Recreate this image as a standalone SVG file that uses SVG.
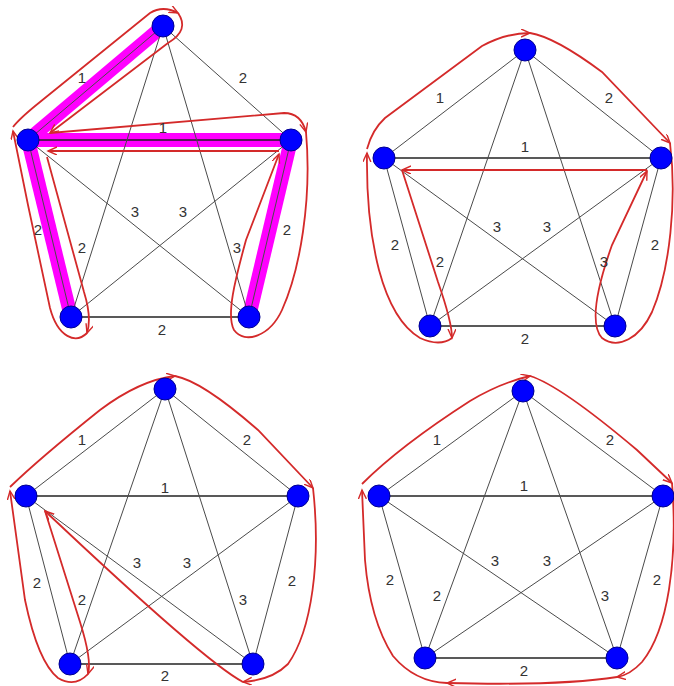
<svg xmlns="http://www.w3.org/2000/svg" width="674" height="686" viewBox="0 0 674 686">
<style>
.e{stroke:#4a4a4a;stroke-width:1;fill:none}
.eh{stroke:#222;stroke-width:1.4;fill:none}
.hl{stroke:#ff00ff;stroke-width:14;fill:none}
.r{stroke:#d42a2a;stroke-width:1.8;fill:none;marker-end:url(#ah)}
.n{fill:#0000ff;stroke:#000090;stroke-width:1}
.t{font-family:"Liberation Sans",Arial,sans-serif;font-size:15px;fill:#333;text-anchor:middle}
</style>
<defs>
<marker id="ah" markerUnits="userSpaceOnUse" markerWidth="12" markerHeight="10" refX="9" refY="4" orient="auto">
<path d="M0,0 L9,4 L0,8" fill="none" stroke="#d42a2a" stroke-width="1.4"/>
</marker>
</defs>
<g id="highlights">
<line class="hl" x1="163" y1="26" x2="28" y2="140"/>
<line class="hl" x1="28" y1="140" x2="291" y2="140"/>
<line class="hl" x1="28" y1="140" x2="71" y2="317"/>
<line class="hl" x1="291" y1="140" x2="249" y2="317"/>
</g>
<g id="connectors">
<line class="e" x1="163" y1="26" x2="28" y2="140"/>
<line class="e" x1="163" y1="26" x2="291" y2="140"/>
<line class="eh" x1="28" y1="140" x2="291" y2="140"/>
<line class="e" x1="28" y1="140" x2="71" y2="317"/>
<line class="e" x1="291" y1="140" x2="249" y2="317"/>
<line class="eh" x1="71" y1="317" x2="249" y2="317"/>
<line class="e" x1="163" y1="26" x2="71" y2="317"/>
<line class="e" x1="163" y1="26" x2="249" y2="317"/>
<line class="e" x1="28" y1="140" x2="249" y2="317"/>
<line class="e" x1="291" y1="140" x2="71" y2="317"/>
<line class="e" x1="525" y1="50" x2="384" y2="158"/>
<line class="e" x1="525" y1="50" x2="661" y2="158"/>
<line class="eh" x1="384" y1="158" x2="661" y2="158"/>
<line class="e" x1="384" y1="158" x2="430" y2="326"/>
<line class="e" x1="661" y1="158" x2="615" y2="326"/>
<line class="eh" x1="430" y1="326" x2="615" y2="326"/>
<line class="e" x1="525" y1="50" x2="430" y2="326"/>
<line class="e" x1="525" y1="50" x2="615" y2="326"/>
<line class="e" x1="384" y1="158" x2="615" y2="326"/>
<line class="e" x1="661" y1="158" x2="430" y2="326"/>
<line class="e" x1="165" y1="389" x2="26" y2="496"/>
<line class="e" x1="165" y1="389" x2="298" y2="496"/>
<line class="eh" x1="26" y1="496" x2="298" y2="496"/>
<line class="e" x1="26" y1="496" x2="70" y2="664"/>
<line class="e" x1="298" y1="496" x2="253" y2="664"/>
<line class="eh" x1="70" y1="664" x2="253" y2="664"/>
<line class="e" x1="165" y1="389" x2="70" y2="664"/>
<line class="e" x1="165" y1="389" x2="253" y2="664"/>
<line class="e" x1="26" y1="496" x2="253" y2="664"/>
<line class="e" x1="298" y1="496" x2="70" y2="664"/>
<line class="e" x1="523" y1="391" x2="379" y2="496"/>
<line class="e" x1="523" y1="391" x2="663" y2="496"/>
<line class="eh" x1="379" y1="496" x2="663" y2="496"/>
<line class="e" x1="379" y1="496" x2="425" y2="658"/>
<line class="e" x1="663" y1="496" x2="617" y2="658"/>
<line class="eh" x1="425" y1="658" x2="617" y2="658"/>
<line class="e" x1="523" y1="391" x2="425" y2="658"/>
<line class="e" x1="523" y1="391" x2="617" y2="658"/>
<line class="e" x1="379" y1="496" x2="617" y2="658"/>
<line class="e" x1="663" y1="496" x2="425" y2="658"/>
</g>
<g id="tours">
<path class="r" d="M13,127 Q20,118 40,102 L150,13 Q163,5 178,13"/>
<path class="r" d="M178,13 Q190,30 168,43 L50,133"/>
<path class="r" d="M50,133 L284,113 Q301,113 306,132"/>
<path class="r" d="M306,132 C312,200 300,270 282,310 C270,336 245,345 234,330 C226,315 235,280 246,240 L279,154"/>
<path class="r" d="M279,151 L48,151"/>
<path class="r" d="M47,157 L84,292 Q92,318 87,333"/>
<path class="r" d="M87,333 C76,344 58,338 50,308 L28,205 L13,131"/>
<path class="r" d="M367,149 Q372,130 385,118 L482,46 Q506,33 530,33"/>
<path class="r" d="M530,33 Q555,37 602,72 L670,143"/>
<path class="r" d="M670,143 C677,200 670,270 652,312 C640,338 618,350 602,338 C590,325 596,290 612,245 L647,171"/>
<path class="r" d="M647,170 L402,170"/>
<path class="r" d="M402,170 L438,282 Q452,322 452,338"/>
<path class="r" d="M452,338 Q440,347 420,338 Q393,322 379,270 Q366,220 367,153"/>
<path class="r" d="M10,487 Q40,458 100,410 Q140,380 175,376"/>
<path class="r" d="M175,376 Q202,381 258,430 L313,488"/>
<path class="r" d="M313,488 C321,560 312,630 288,664 Q272,680 243,682"/>
<path class="r" d="M243,682 Q205,662 45,511"/>
<path class="r" d="M45,511 L80,622 Q92,660 88,674"/>
<path class="r" d="M88,674 Q75,688 58,678 Q38,662 25,600 L10,491"/>
<path class="r" d="M362,484 Q400,446 470,401 Q500,383 530,376"/>
<path class="r" d="M530,376 Q560,385 637,450 L672,483"/>
<path class="r" d="M672,483 C678,560 668,630 642,662 Q630,675 617,677"/>
<path class="r" d="M617,677 Q560,686 447,683"/>
<path class="r" d="M447,683 Q415,682 393,656 Q370,620 365,560 L362,490"/>
</g>
<g id="nodes">
<g id="q1-nodes">
<circle id="q1-t" class="n" cx="163" cy="26" r="11"/>
<circle id="q1-l" class="n" cx="28" cy="140" r="11"/>
<circle id="q1-r" class="n" cx="291" cy="140" r="11"/>
<circle id="q1-bl" class="n" cx="71" cy="317" r="11"/>
<circle id="q1-br" class="n" cx="249" cy="317" r="11"/>
</g>
<g id="q2-nodes">
<circle id="q2-t" class="n" cx="525" cy="50" r="11"/>
<circle id="q2-l" class="n" cx="384" cy="158" r="11"/>
<circle id="q2-r" class="n" cx="661" cy="158" r="11"/>
<circle id="q2-bl" class="n" cx="430" cy="326" r="11"/>
<circle id="q2-br" class="n" cx="615" cy="326" r="11"/>
</g>
<g id="q3-nodes">
<circle id="q3-t" class="n" cx="165" cy="389" r="11"/>
<circle id="q3-l" class="n" cx="26" cy="496" r="11"/>
<circle id="q3-r" class="n" cx="298" cy="496" r="11"/>
<circle id="q3-bl" class="n" cx="70" cy="664" r="11"/>
<circle id="q3-br" class="n" cx="253" cy="664" r="11"/>
</g>
<g id="q4-nodes">
<circle id="q4-t" class="n" cx="523" cy="391" r="11"/>
<circle id="q4-l" class="n" cx="379" cy="496" r="11"/>
<circle id="q4-r" class="n" cx="663" cy="496" r="11"/>
<circle id="q4-bl" class="n" cx="425" cy="658" r="11"/>
<circle id="q4-br" class="n" cx="617" cy="658" r="11"/>
</g>
</g>
<g id="labels">
<text class="t" x="82" y="83">1</text>
<text class="t" x="243" y="83">2</text>
<text class="t" x="163" y="133">1</text>
<text class="t" x="135" y="217">3</text>
<text class="t" x="183" y="217">3</text>
<text class="t" x="38" y="235">2</text>
<text class="t" x="82" y="253">2</text>
<text class="t" x="237" y="253">3</text>
<text class="t" x="287" y="235">2</text>
<text class="t" x="162" y="335">2</text>
<text class="t" x="440" y="103">1</text>
<text class="t" x="609" y="103">2</text>
<text class="t" x="525" y="152">1</text>
<text class="t" x="497" y="232">3</text>
<text class="t" x="547" y="232">3</text>
<text class="t" x="395" y="250">2</text>
<text class="t" x="440" y="267">2</text>
<text class="t" x="604" y="267">3</text>
<text class="t" x="655" y="250">2</text>
<text class="t" x="525" y="344">2</text>
<text class="t" x="82" y="445">1</text>
<text class="t" x="247" y="445">2</text>
<text class="t" x="165" y="493">1</text>
<text class="t" x="137" y="568">3</text>
<text class="t" x="187" y="568">3</text>
<text class="t" x="37" y="588">2</text>
<text class="t" x="82" y="605">2</text>
<text class="t" x="243" y="605">3</text>
<text class="t" x="292" y="586">2</text>
<text class="t" x="165" y="681">2</text>
<text class="t" x="437" y="445">1</text>
<text class="t" x="610" y="445">2</text>
<text class="t" x="524" y="491">1</text>
<text class="t" x="495" y="566">3</text>
<text class="t" x="547" y="566">3</text>
<text class="t" x="390" y="585">2</text>
<text class="t" x="437" y="601">2</text>
<text class="t" x="605" y="601">3</text>
<text class="t" x="657" y="585">2</text>
<text class="t" x="524" y="676">2</text>
</g>
</svg>
